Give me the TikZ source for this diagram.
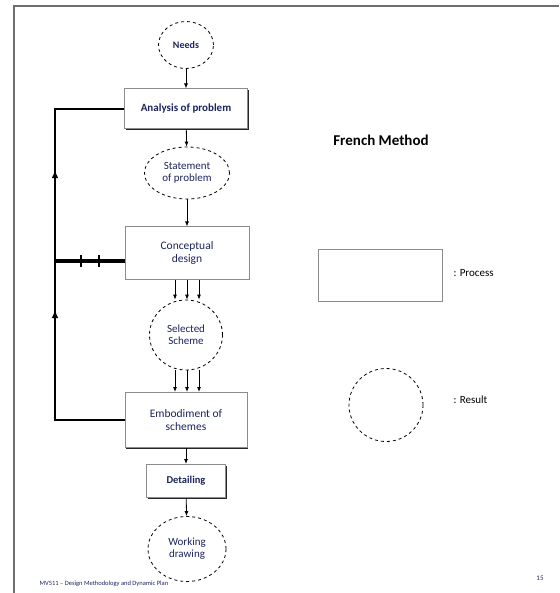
\documentclass[tikz,border=0pt]{standalone}
\usepackage{fontspec}
\setmainfont{Carlito}
\usetikzlibrary{arrows.meta,positioning,calc,shapes.geometric,shadows}
\definecolor{SlideNavy}{RGB}{28,36,92}
\definecolor{FrameGray}{RGB}{110,110,110}

\tikzset{
  result/.style={ellipse,draw,dashed,line width=.8pt,inner sep=1pt,
    align=center,text=SlideNavy,font=\fontsize{11}{12}\selectfont},
  procbox/.style={rectangle,draw=black!45,line width=1pt,fill=white,
    align=center,text=SlideNavy,font=\fontsize{11.5}{13}\selectfont,
    drop shadow={shadow xshift=1pt,shadow yshift=-1pt,opacity=1,fill=black!85}},
  flow/.style={-{Latex[length=5pt,width=4pt]},line width=.8pt},
  feedback/.style={line width=1.3pt},
  uparrow/.style={feedback,-{Triangle[length=7pt,width=6pt]}},
}

\begin{document}
\begin{tikzpicture}[x=1pt,y=-1pt]
  \useasboundingbox (0,0) rectangle (559,593);
  % slide frame
  \draw[FrameGray,line width=2pt] (559,6)--(14,6)--(14,593);

  % main column
  \node[result,minimum width=55,minimum height=47,font=\bfseries\fontsize{10}{12}\selectfont]
    (needs) at (186,45) {Needs};
  \node[procbox,minimum width=123,minimum height=40,font=\bfseries\fontsize{11}{13}\selectfont]
    (analysis) at (186,109) {Analysis of problem};
  \node[result,minimum width=85,minimum height=52] (statement) at (187,173)
    {Statement\\of problem};
  \node[procbox,minimum width=124,minimum height=52] (concept) at (187,253)
    {Conceptual\\design};
  \node[result,minimum width=73,minimum height=70] (selected) at (186,335)
    {Selected\\Scheme};
  \node[procbox,minimum width=122,minimum height=55] (embodiment) at (186,420)
    {Embodiment of\\schemes};
  \node[procbox,minimum width=79,minimum height=33,font=\bfseries\fontsize{10.5}{12}\selectfont]
    (detailing) at (186,481) {Detailing};
  \node[result,minimum width=78,minimum height=65] (working) at (187,549)
    {Working\\drawing};

  \draw[flow] (needs) -- (analysis);
  \draw[flow] (analysis) -- (statement);
  \draw[flow] (statement) -- (concept);
  \foreach \dx in {-12,0,12} {
    \draw[flow] ([xshift=\dx]concept.south) -- ([xshift=\dx]concept.south |- selected.north);
    \draw[flow] ([xshift=\dx]concept.south |- selected.south) -- ([xshift=\dx]concept.south |- embodiment.north);
  }
  \draw[flow] (embodiment) -- (detailing);
  \draw[flow] (detailing) -- (working);

  % feedback loop
  \coordinate (fbBottom) at (55,420);
  \coordinate (fbTop) at (55,109);
  \coordinate (fbMid) at (55,261);
  \draw[feedback] (embodiment.west) -- (fbBottom) -- (fbTop) -- (analysis.west);
  \draw[uparrow] (fbBottom) -- ($(fbBottom)!.35!(fbTop)$);
  \draw[uparrow] (fbMid) -- ($(fbBottom)!.8!(fbTop)$);
  \draw[line width=4pt] (fbMid) -- (fbMid -| concept.west);
  \foreach \tx in {81,99}
    \draw[line width=1.2pt] (\tx,255) -- (\tx,267);

  % legend
  \node[font=\bfseries\fontsize{15}{17}\selectfont,text=black] (title) at (381,140) {French Method};
  \node[procbox,minimum width=124,minimum height=52] (legproc) at (380,275) {};
  \node[anchor=west,font=\fontsize{11}{13}\selectfont] (legproctxt) at (450,273) {: Process};
  \node[result,minimum width=74,minimum height=73] (legres) at (386,405) {};
  \node[anchor=west,font=\fontsize{11}{13}\selectfont] (legrestxt) at (450,400) {: Result};

  % footer
  \node[anchor=west,text=SlideNavy,font=\fontsize{6.5}{7}\selectfont] (footer) at (36,584)
    {MV511 -- Design Methodology and Dynamic Plan};
  \node[text=SlideNavy,font=\fontsize{7}{8}\selectfont] (page) at (540,578) {15};
\end{tikzpicture}
\end{document}
